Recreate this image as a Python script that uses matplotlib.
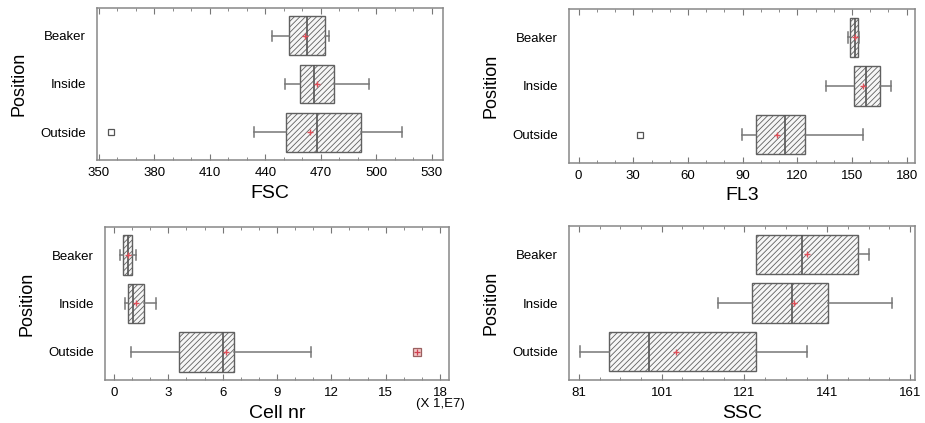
import matplotlib
matplotlib.use("Agg")
import matplotlib.pyplot as plt
import numpy as np

plt.rcParams['font.family'] = ['Liberation Sans', 'DejaVu Sans']
plt.rcParams['hatch.linewidth'] = 0.6

positions = ["Beaker", "Inside", "Outside"]

# per variable: whisker low, q1, median, q3, whisker high, mean, outliers
fsc_lo = [443.8, 450.4, 433.7]
fsc_q1 = [452.6, 458.5, 451.0]
fsc_med = [462.3, 466.3, 468.1]
fsc_q3 = [472.4, 477.3, 491.5]
fsc_hi = [474.4, 496.0, 513.8]
fsc_mean = [461.2, 467.7, 464.1]
fsc_out = [[], [], [356.3]]
fsc_ticks = [350, 380, 410, 440, 470, 500, 530]

fl3_lo = [147.6, 135.9, 89.4]
fl3_q1 = [149.1, 150.9, 97.4]
fl3_med = [151.6, 157.9, 113.4]
fl3_q3 = [153.3, 165.2, 124.4]
fl3_hi = [154.0, 171.4, 156.2]
fl3_mean = [151.5, 156.2, 108.8]
fl3_out = [[], [], [33.5]]
fl3_ticks = [0, 30, 60, 90, 120, 150, 180]

cell_lo = [0.35, 0.61, 0.94]
cell_q1 = [0.48, 0.77, 3.57]
cell_med = [0.77, 1.03, 5.99]
cell_q3 = [0.99, 1.68, 6.65]
cell_hi = [1.23, 2.32, 10.88]
cell_mean = [0.76, 1.23, 6.19]
cell_far = [[], [], [16.74]]
cell_ticks = [0, 3, 6, 9, 12, 15, 18]

ssc_lo = [123.7, 114.6, 81.2]
ssc_q1 = [123.7, 122.9, 88.2]
ssc_med = [134.8, 132.6, 97.9]
ssc_q3 = [148.5, 141.2, 123.9]
ssc_hi = [151.1, 156.6, 136.2]
ssc_mean = [136.2, 132.9, 104.5]
ssc_out = [[], [], []]
ssc_ticks = [81, 101, 121, 141, 161]


def make_stats(lo, q1, med, q3, hi, mean, out):
    return [dict(whislo=lo[i], q1=q1[i], med=med[i], q3=q3[i], whishi=hi[i],
                 mean=mean[i], fliers=out[i], label=positions[i])
            for i in range(len(positions))]


def draw_panel(ax, stats, xlabel, xlim, ticks, n_minor, far=None):
    bp = ax.bxp(stats, positions=range(len(stats)), orientation='horizontal',
                widths=0.81, capwidths=0.22, patch_artist=True,
                showmeans=True, shownotches=False,
                medianprops=dict(color='#555555', linewidth=1.2),
                whiskerprops=dict(color='#777777', linewidth=1.1),
                capprops=dict(color='#777777', linewidth=1.1),
                meanprops=dict(marker='+', markeredgecolor='#e0505a',
                               markersize=5, markeredgewidth=1.0),
                flierprops=dict(marker='s', markerfacecolor='none',
                                markeredgecolor='#555555', markersize=5,
                                markeredgewidth=0.9))
    for box in bp['boxes']:
        box.set_facecolor('#f6f6f6')
        box.set_edgecolor('#606060')
        box.set_hatch('//////')
        box.set_linewidth(1.0)
    # a whisker of zero length gets no cap
    for i, st in enumerate(stats):
        if st['whislo'] == st['q1']:
            bp['caps'][2 * i].set_visible(False)
    if far is not None:
        for i, vals in enumerate(far):
            for v in vals:
                ax.plot([v], [i], marker='s', markersize=6, markerfacecolor='#f2c8c8',
                        markeredgecolor='#9a6060', markeredgewidth=0.9)
                ax.plot([v], [i], marker='+', markersize=5, markeredgecolor='#d04050',
                        markeredgewidth=0.9)
    ax.set_ylim(2.58, -0.58)
    ax.set_xlim(*xlim)
    ax.set_xticks(ticks)
    step = (ticks[1] - ticks[0]) / n_minor
    ax.set_xticks(np.arange(ticks[0], ticks[-1] + step / 2, step), minor=True)
    ax.set_yticks(range(len(positions)))
    ax.set_yticklabels(positions)
    ax.tick_params(axis='x', which='both', direction='in', top=True, bottom=True,
                   color='#777777', labelsize=9.5, pad=5)
    ax.tick_params(axis='x', which='major', length=4)
    ax.tick_params(axis='x', which='minor', length=2.5)
    ax.tick_params(axis='y', length=0, labelsize=9.5, pad=8)
    for s in ax.spines.values():
        s.set_color('#888888')
        s.set_linewidth(1.1)
    ax.set_xlabel(xlabel, fontsize=14, labelpad=4)
    ax.set_ylabel('Position', fontsize=13, labelpad=9)


fig = plt.figure(figsize=(9.25, 4.23), dpi=100)
W, H = 925, 423


def axes_px(x0, y0, x1, y1):
    return fig.add_axes([x0 / W, 1 - y1 / H, (x1 - x0) / W, (y1 - y0) / H])


ax1 = axes_px(97, 8, 443, 160)
draw_panel(ax1, make_stats(fsc_lo, fsc_q1, fsc_med, fsc_q3, fsc_hi, fsc_mean, fsc_out),
           'FSC', (349, 536), fsc_ticks, 3)

ax2 = axes_px(569, 9, 915, 163)
draw_panel(ax2, make_stats(fl3_lo, fl3_q1, fl3_med, fl3_q3, fl3_hi, fl3_mean, fl3_out),
           'FL3', (-5.3, 184.6), fl3_ticks, 3)

ax3 = axes_px(105, 227, 449, 380)
draw_panel(ax3, make_stats(cell_lo, cell_q1, cell_med, cell_q3, cell_hi, cell_mean,
                           [[], [], []]),
           'Cell nr', (-0.5, 18.5), cell_ticks, 3, far=cell_far)
ax3.text(18, -0.12, '(X 1,E7)', transform=ax3.get_xaxis_transform(),
         ha='center', va='top', fontsize=9.5)

ax4 = axes_px(569, 226, 915, 380)
draw_panel(ax4, make_stats(ssc_lo, ssc_q1, ssc_med, ssc_q3, ssc_hi, ssc_mean, ssc_out),
           'SSC', (78.6, 162.2), ssc_ticks, 4)

fig.savefig('out.png', dpi=100)
